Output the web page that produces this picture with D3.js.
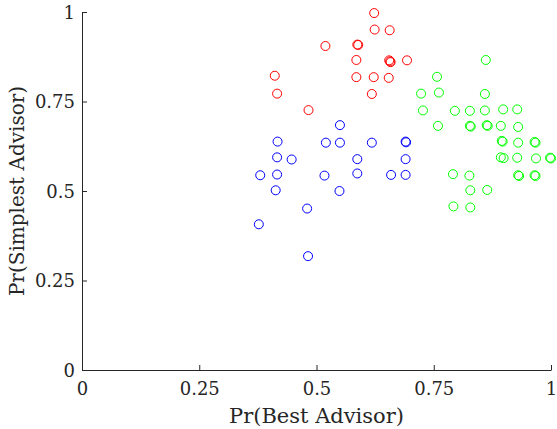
<!DOCTYPE html>
<html>
<head>
<meta charset="utf-8">
<script src="https://cdn.jsdelivr.net/npm/d3@7"></script>
<style>
    body { margin: 0; background: #fff; }
</style>
</head>
<body>
<div id="chart-area"></div>
<script>
// Data: [Pr(Best Advisor), Pr(Simplest Advisor)]
var redPoints = [
    [0.623, 0.997], [0.624, 0.951], [0.656, 0.949], [0.519, 0.905], [0.587, 0.909],
    [0.589, 0.908], [0.585, 0.866], [0.655, 0.865], [0.657, 0.862], [0.658, 0.860],
    [0.693, 0.865], [0.411, 0.822], [0.585, 0.818], [0.622, 0.818], [0.654, 0.816],
    [0.416, 0.772], [0.618, 0.771], [0.483, 0.726]
];
var bluePoints = [
    [0.550, 0.684], [0.417, 0.638], [0.520, 0.635], [0.550, 0.635], [0.618, 0.635],
    [0.690, 0.638], [0.691, 0.636], [0.416, 0.594], [0.447, 0.588], [0.587, 0.589],
    [0.690, 0.589], [0.380, 0.544], [0.416, 0.546], [0.517, 0.543], [0.587, 0.549],
    [0.659, 0.545], [0.690, 0.545], [0.413, 0.502], [0.549, 0.500], [0.480, 0.451],
    [0.377, 0.407], [0.482, 0.318]
];
var greenPoints = [
    [0.861, 0.866], [0.757, 0.819], [0.723, 0.772], [0.761, 0.775], [0.859, 0.771],
    [0.727, 0.725], [0.795, 0.724], [0.827, 0.724], [0.859, 0.725], [0.898, 0.728],
    [0.928, 0.728], [0.759, 0.682], [0.827, 0.682], [0.829, 0.680], [0.863, 0.684],
    [0.865, 0.682], [0.893, 0.682], [0.930, 0.679], [0.895, 0.640], [0.897, 0.638],
    [0.930, 0.635], [0.965, 0.637], [0.967, 0.635], [0.893, 0.594], [0.899, 0.592],
    [0.928, 0.593], [0.968, 0.591], [0.998, 0.593], [1.000, 0.591], [0.791, 0.547],
    [0.826, 0.543], [0.930, 0.544], [0.932, 0.542], [0.965, 0.544], [0.967, 0.542],
    [0.828, 0.502], [0.864, 0.503], [0.792, 0.457], [0.828, 0.454]
];
var tickValues = [0, 0.25, 0.5, 0.75, 1];
var tickLabels = ["0", "0.25", "0.5", "0.75", "1"];

var series = [
    { color: "#ff0000", points: redPoints },
    { color: "#0000ff", points: bluePoints },
    { color: "#00ff00", points: greenPoints }
];

var serif = "DejaVu Serif";

// Setting up svg chart area
var margin = { left: 82, right: 6, top: 12, bottom: 59 };
var width = 557 - margin.left - margin.right,
    height = 429 - margin.top - margin.bottom;

var svg = d3.select("#chart-area")
    .append("svg")
        .attr("width", 557)
        .attr("height", 429);

var g = svg.append("g")
    .attr("transform", "translate(" + margin.left + ", " + margin.top + ")");

// Scales
var x = d3.scaleLinear().domain([0, 1]).range([0, width]);
var y = d3.scaleLinear().domain([0, 1]).range([height, 0]);

// X axis (ticks point inward)
var xAxis = g.append("g")
    .attr("transform", "translate(0," + height + ")")
    .call(d3.axisTop(x)
        .tickValues(tickValues)
        .tickFormat(function(d, i) { return tickLabels[i]; })
        .tickSizeInner(5)
        .tickSizeOuter(0));
xAxis.attr("font-family", serif).attr("font-size", 18);
xAxis.selectAll("text")
    .attr("y", 25)
    .attr("dy", 0);

// Y axis (ticks point inward)
var yAxis = g.append("g")
    .call(d3.axisRight(y)
        .tickValues(tickValues)
        .tickFormat(function(d, i) { return tickLabels[i]; })
        .tickSizeInner(5)
        .tickSizeOuter(0));
yAxis.attr("font-family", serif).attr("font-size", 18);
yAxis.selectAll("text")
    .attr("x", -7)
    .attr("text-anchor", "end")
    .attr("dy", "0.35em");

g.selectAll(".domain, .tick line")
    .attr("stroke", "#262626")
    .attr("stroke-width", 1);
g.selectAll(".tick text").attr("fill", "#262626");

// X Label
g.append("text")
    .attr("x", width / 2)
    .attr("y", height + 53)
    .attr("font-family", serif)
    .attr("font-size", "21px")
    .attr("fill", "#262626")
    .attr("text-anchor", "middle")
    .text("Pr(Best Advisor)");

// Y Label
g.append("text")
    .attr("x", -(height / 2))
    .attr("y", -58)
    .attr("font-family", serif)
    .attr("font-size", "20px")
    .attr("fill", "#262626")
    .attr("text-anchor", "middle")
    .attr("transform", "rotate(-90)")
    .text("Pr(Simplest Advisor)");

// Circles
series.forEach(function(s) {
    g.append("g")
        .selectAll("circle")
        .data(s.points)
        .enter()
        .append("circle")
            .attr("cx", function(d) { return x(d[0]); })
            .attr("cy", function(d) { return y(d[1]); })
            .attr("r", 4.5)
            .attr("fill", "none")
            .attr("stroke", s.color)
            .attr("stroke-width", 1);
});
</script>
</body>
</html>
